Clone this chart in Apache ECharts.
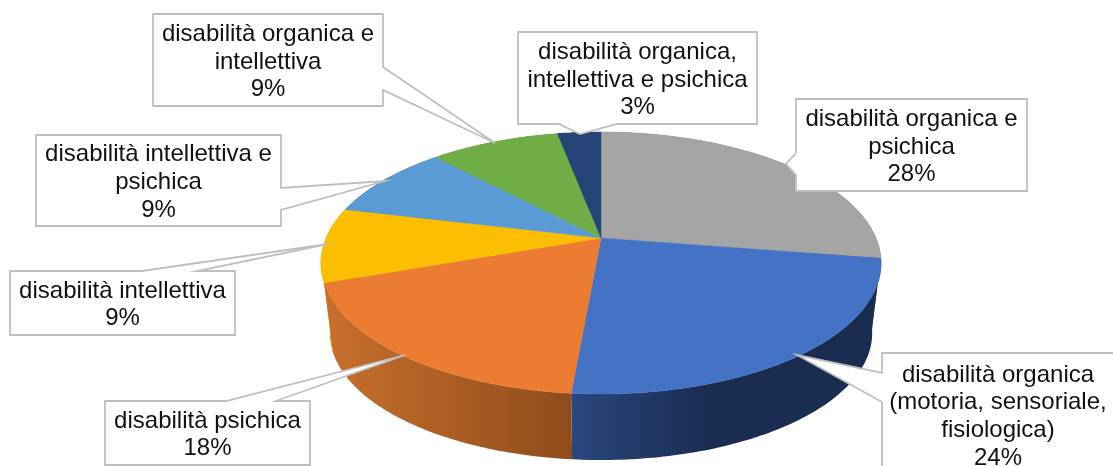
<!DOCTYPE html>
<html>
<head>
<meta charset="utf-8">
<style>
html, body { margin: 0; padding: 0; background: #fff; overflow: hidden; }
#main { width: 1113px; height: 466px; }
</style>
<script src="https://cdn.jsdelivr.net/npm/echarts@6/dist/echarts.min.js"></script>
</head>
<body>
<div id="main"></div>
<script>
// clockwise from 12 o'clock
var categories = [
    'disabilità organica e\npsichica',
    'disabilità organica\n(motoria, sensoriale,\nfisiologica)',
    'disabilità psichica',
    'disabilità intellettiva',
    'disabilità intellettiva e\npsichica',
    'disabilità organica e\nintellettiva',
    'disabilità organica,\nintellettiva e psichica'
];
var shares = [27.5, 23.9, 18.2, 9.2, 9.2, 9.0, 3.0];

var topColors = ['#a5a5a5', '#4472c4', '#eb7c31', '#fcbe00', '#5b9bd5', '#70ad47', '#264478'];
var wallColors = [
    ['#636363', '#636363'],
    ['#2a477e', '#1a2c50'],
    ['#c8702e', '#8f4c1b'],
    ['#c79600', '#c79600'],
    ['#37618a', '#37618a'],
    ['#44692a', '#44692a'],
    ['#172a4a', '#172a4a']
];

// callouts: box [x, y, w, h], wedge base and tip
var callouts = [
    { box: [796, 99, 231, 92], base: [[796, 175], [796, 153]], tip: [786, 164], side: 'left' },
    { box: [882, 353, 232, 123], base: [[882, 402], [882, 373]], tip: [797, 355], side: 'left' },
    { box: [105, 401, 205, 64], base: [[226, 401], [276, 401]], tip: [405, 355], side: 'top' },
    { box: [10, 271, 225, 64], base: [[142, 271], [197, 271]], tip: [328, 244], side: 'top' },
    { box: [36, 135, 245, 91], base: [[281, 188], [281, 210]], tip: [385, 181], side: 'right' },
    { box: [153, 14, 230, 92], base: [[383, 67], [383, 90]], tip: [495, 143], side: 'right' },
    { box: [518, 32, 239, 92], base: [[617, 124], [559, 124]], tip: [580, 134], side: 'bottom' }
];

var total = 0;
shares.forEach(function (v) { total += v; });

var cx = 601, k = 0.1908;
// projected pie, the far edge is smaller than the near one
function project(theta, level) {
    var u = Math.sin(theta), v = -Math.cos(theta);
    var d = 1 - k * v;
    if (level == 'top') {
        return [cx + 275 * u / d, 238 + 126.2 * v / d];
    }
    return [cx + 266.2 * u / d, 309 + 122.2 * v / d];
}

function sliceAngles(index) {
    var sum = 0;
    for (var i = 0; i < index; i++) sum += shares[i];
    return [sum / total * Math.PI * 2, (sum + shares[index]) / total * Math.PI * 2];
}

function arc(a0, a1, level) {
    var pts = [];
    var n = Math.max(4, Math.ceil((a1 - a0) * 60));
    for (var i = 0; i <= n; i++) {
        pts.push(project(a0 + (a1 - a0) * i / n, level));
    }
    return pts;
}

function renderWall(params, api) {
    var i = wallOrder[params.dataIndex];
    var a = sliceAngles(i);
    var pts = arc(a[0], a[1], 'top').concat(arc(a[0], a[1], 'base').reverse());
    return {
        type: 'polygon',
        shape: { points: pts },
        style: {
            fill: new echarts.graphic.LinearGradient(0, 0, 1, 0, [
                { offset: 0, color: wallColors[i][0] },
                { offset: i == 1 ? 0.45 : 1, color: wallColors[i][1] },
                { offset: 1, color: wallColors[i][1] }
            ])
        }
    };
}

function renderTop(params, api) {
    var i = params.dataIndex;
    var a = sliceAngles(i);
    var pts = [[cx, 238]].concat(arc(a[0], a[1], 'top'));
    return {
        type: 'polygon',
        shape: { points: pts },
        style: { fill: topColors[i], stroke: topColors[i], lineWidth: 0.5 }
    };
}

function renderCallout(params, api) {
    var i = params.dataIndex;
    var c = callouts[i];
    var b = c.box;
    var x0 = b[0], y0 = b[1], x1 = b[0] + b[2], y1 = b[1] + b[3];
    var wedge = [c.base[0], c.tip, c.base[1]];
    var pts;
    if (c.side == 'top') {
        pts = [[x0, y0]].concat(wedge, [[x1, y0], [x1, y1], [x0, y1]]);
    } else if (c.side == 'right') {
        pts = [[x0, y0], [x1, y0]].concat(wedge, [[x1, y1], [x0, y1]]);
    } else if (c.side == 'bottom') {
        pts = [[x0, y0], [x1, y0], [x1, y1]].concat(wedge, [[x0, y1]]);
    } else {
        pts = [[x0, y0], [x1, y0], [x1, y1], [x0, y1]].concat(wedge);
    }
    return {
        type: 'group',
        children: [{
            type: 'polygon',
            shape: { points: pts },
            style: { fill: '#fff', stroke: '#bfbfbf', lineWidth: 1.8 }
        }, {
            type: 'text',
            x: x0 + b[2] / 2,
            y: y0 + b[3] / 2 + 2,
            style: {
                text: categories[i] + '\n' + Math.round(shares[i]) + '%',
                fill: '#111',
                font: '24px "Liberation Sans", Arial, sans-serif',
                lineHeight: 27.7,
                align: 'center',
                verticalAlign: 'middle'
            }
        }]
    };
}

// back to front, so the nearer walls cover the others
var wallOrder = [6, 5, 4, 0, 3, 1, 2];

var myChart = echarts.init(document.getElementById('main'), null, { renderer: 'canvas' });
myChart.setOption({
    backgroundColor: '#fff',
    animation: false,
    series: [
        { type: 'custom', coordinateSystem: 'none', silent: true, z: 1, renderItem: renderWall, data: shares },
        { type: 'custom', coordinateSystem: 'none', silent: true, z: 2, renderItem: renderTop, data: shares },
        { type: 'custom', coordinateSystem: 'none', silent: true, z: 3, renderItem: renderCallout, data: shares }
    ]
});
</script>
</body>
</html>
